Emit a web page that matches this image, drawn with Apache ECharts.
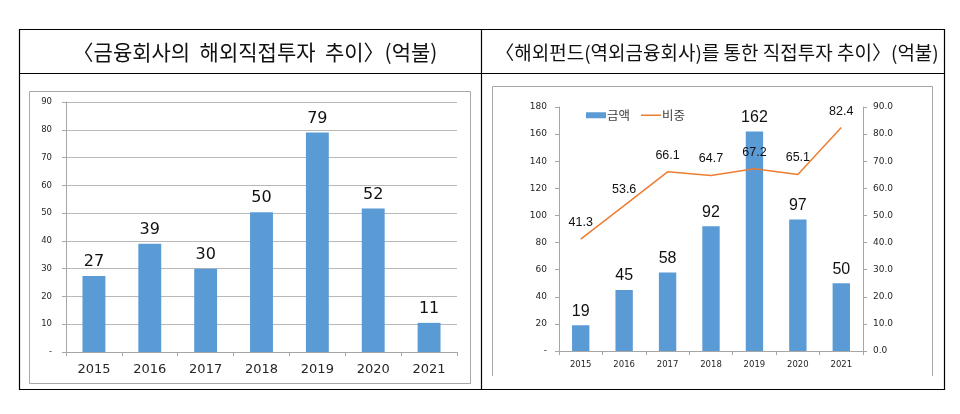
<!DOCTYPE html>
<html>
<head>
<meta charset="utf-8">
<script src="https://cdn.jsdelivr.net/npm/echarts@6/dist/echarts.min.js"></script>
<style>
html,body{margin:0;padding:0;background:#fff;}
#c{width:960px;height:414px;}
</style>
</head>
<body>
<div id="c"></div>
<script>
// ---- data ----
const years = ['2015','2016','2017','2018','2019','2020','2021'];
const leftTitle = '〈금융회사의  해외직접투자  추이〉(억불)';
const rightTitle = '〈해외펀드(역외금융회사)를 통한 직접투자 추이〉(억불)';
const finAmount = [27.4, 39, 30, 50.3, 79, 51.7, 10.5];
const fundAmount = [19, 45, 58, 92, 162, 97, 50];
const fundShare = [41.3, 53.6, 66.1, 64.7, 67.2, 65.1, 82.4];
const seriesNames = ['금액', '비중'];

const blue = '#5B9BD5';
const orange = '#ED7D31';
const gray = '#A6A6A6';
const txt = '#262626';

const chart = echarts.init(document.getElementById('c'), null, {renderer:'canvas'});
const option = {
  animation: false,
  backgroundColor: '#fff',
  title: [
    {text: leftTitle, left: 250, top: 37, textAlign: 'center',
     textStyle: {fontFamily: 'Noto Sans CJK KR', fontWeight: 'normal', fontSize: 21, color: '#111'}},
    {text: rightTitle, left: 712, top: 38, textAlign: 'center',
     textStyle: {fontFamily: 'Noto Sans CJK KR', fontWeight: 'normal', fontSize: 19, color: '#111'}}
  ],
  legend: {
    data: [
      {name: seriesNames[0], icon: 'rect'},
      {name: seriesNames[1], icon: 'path://M0,0H20V1.5H0Z', itemStyle: {color: orange}}
    ],
    left: 581, top: 104, itemWidth: 20, itemHeight: 6, itemGap: 11,
    textStyle: {fontFamily: 'Noto Sans CJK KR', fontSize: 12.5, color: '#404040', padding: [0,0,0,-4]}
  },
  grid: [
    {left: 66, top: 102, width: 391, height: 250},
    {left: 559, top: 107, width: 304, height: 244}
  ],
  xAxis: [
    {type: 'category', gridIndex: 0, data: years,
     axisLine: {lineStyle: {color: gray}},
     axisTick: {show: true, length: 4, lineStyle: {color: gray}},
     axisLabel: {fontFamily: 'DejaVu Sans', fontSize: 13, color: txt, margin: 11}},
    {type: 'category', gridIndex: 1, data: years,
     axisLine: {lineStyle: {color: gray}},
     axisTick: {show: true, length: 4, lineStyle: {color: gray}},
     axisLabel: {fontFamily: 'DejaVu Sans', fontSize: 8.5, color: txt, margin: 9}}
  ],
  yAxis: [
    {type: 'value', gridIndex: 0, min: 0, max: 90, interval: 10,
     axisLine: {show: true, lineStyle: {color: gray}},
     axisTick: {show: true, length: 4, lineStyle: {color: gray}},
     splitLine: {show: true, lineStyle: {color: '#B8B8B8', width: 1}},
     axisLabel: {fontFamily: 'DejaVu Sans', fontSize: 8.5, color: txt, margin: 14,
       formatter: v => v === 0 ? '-' : String(v)}},
    {type: 'value', gridIndex: 1, min: 0, max: 180, interval: 20, position: 'left',
     axisLine: {show: true, lineStyle: {color: gray}},
     axisTick: {show: true, length: 4, lineStyle: {color: gray}},
     splitLine: {show: false},
     axisLabel: {fontFamily: 'DejaVu Sans', fontSize: 9, color: txt, margin: 12,
       formatter: v => v === 0 ? '-' : String(v)}},
    {type: 'value', gridIndex: 1, min: 0, max: 90, interval: 10, position: 'right',
     axisLine: {show: true, lineStyle: {color: gray}},
     axisTick: {show: true, length: 4, lineStyle: {color: gray}},
     splitLine: {show: false},
     axisLabel: {fontFamily: 'DejaVu Sans', fontSize: 9, color: txt, margin: 10,
       formatter: v => v.toFixed(1)}}
  ],
  series: [
    {type: 'bar', xAxisIndex: 0, yAxisIndex: 0, data: finAmount, barWidth: '41%',
     itemStyle: {color: blue},
     label: {show: true, position: 'top', distance: 6, fontFamily: 'DejaVu Sans', fontSize: 16, color: '#111',
       formatter: p => Math.round(p.value)}},
    {name: seriesNames[0], type: 'bar', xAxisIndex: 1, yAxisIndex: 1, data: fundAmount, barWidth: '40%',
     itemStyle: {color: blue}, z: 2,
     label: {show: true, position: 'top', distance: 6, fontFamily: 'Liberation Sans', fontSize: 16, color: '#111'}},
    {name: seriesNames[1], type: 'line', xAxisIndex: 1, yAxisIndex: 2, data: fundShare,
     symbol: 'circle', symbolSize: 0.1, showSymbol: true,
     lineStyle: {color: orange, width: 1.5}, itemStyle: {color: orange}, z: 3,
     label: {show: true, position: 'top', distance: 10, fontFamily: 'Liberation Sans', fontSize: 12.5, color: '#111',
       formatter: p => p.value.toFixed(1)}}
  ],
  graphic: [
    {type: 'rect', shape: {x: 19.5, y: 29.5, width: 925, height: 360}, style: {fill: null, stroke: '#000', lineWidth: 1.2}, silent: true},
    {type: 'line', shape: {x1: 19.5, y1: 73.5, x2: 944.5, y2: 73.5}, style: {stroke: '#000', lineWidth: 1.2}, silent: true},
    {type: 'line', shape: {x1: 481.5, y1: 29.5, x2: 481.5, y2: 389.5}, style: {stroke: '#000', lineWidth: 1.2}, silent: true},
    {type: 'rect', shape: {x: 29.5, y: 91.5, width: 441, height: 292}, style: {fill: null, stroke: '#A8A8A8', lineWidth: 1}, silent: true, z: -1},
    {type: 'polyline', shape: {points: [[492.5, 376], [492.5, 86.5], [932.5, 86.5], [932.5, 376]]}, style: {fill: null, stroke: '#A8A8A8', lineWidth: 1}, silent: true, z: -1}
  ]
};
chart.setOption(option);
</script>
</body>
</html>
